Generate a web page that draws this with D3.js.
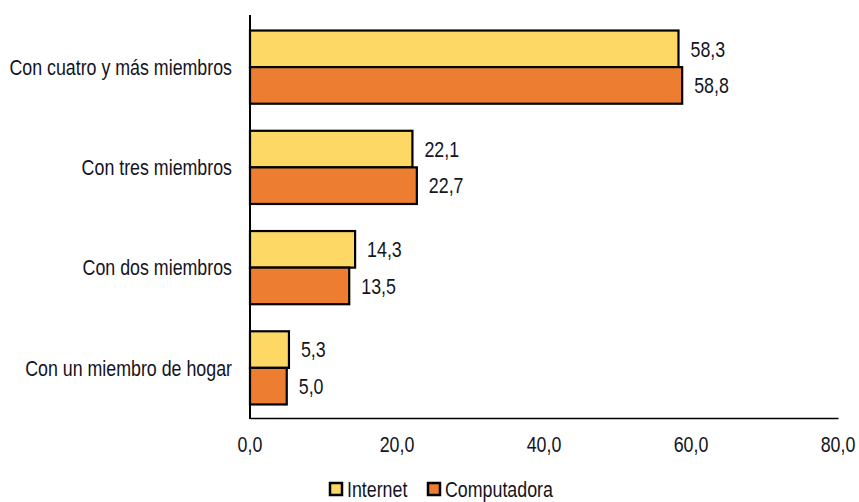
<!DOCTYPE html>
<html><head><meta charset="utf-8">
<script src="https://cdn.jsdelivr.net/npm/d3@7/dist/d3.min.js"></script>
<style>body{margin:0;background:#fff}svg{display:block}text{font-family:"Liberation Sans",Arial,sans-serif;fill:#14141e}</style>
</head><body><svg id="c" width="859" height="502"></svg>
<script>
const categories = ["Con cuatro y más miembros","Con tres miembros","Con dos miembros","Con un miembro de hogar"];
const series = ["Internet","Computadora"];
const internet = [58.3,22.1,14.3,5.3];
const computadora = [58.8,22.7,13.5,5.0];
const ticks = [0,20,40,60,80];
const colors = ["#FDD865","#ED7D31"];

const svg = d3.select("#c");
const FS = 22, SX = 0.81;
function ntext(g, x, y, t, anchor){
  return g.append("text").attr("transform",`translate(${x},${y}) scale(${SX},1)`)
    .attr("dy","0.35em").attr("font-size",FS).attr("text-anchor",anchor||"start").text(t);
}
const m = {l:250, r:838, t:17, b:418};
const x = d3.scaleLinear().domain([0,80]).range([m.l, m.r]);
const y = d3.scaleBand().domain(categories).range([m.t, m.b]).paddingInner(0.27).paddingOuter(0.135);
const ys = d3.scaleBand().domain(series).range([0, y.bandwidth()]);
const fmt = v => v.toFixed(1).replace(".", ",");
const vals = [internet, computadora];

categories.forEach((c,i)=>{
  series.forEach((s,j)=>{
    const v = vals[j][i];
    svg.append("rect").attr("x", x(0)).attr("y", y(c)+ys(s))
      .attr("width", x(v)-x(0)).attr("height", ys.bandwidth())
      .attr("fill", colors[j]).attr("stroke","#000").attr("stroke-width",2.2);
    ntext(svg, x(v)+12, y(c)+ys(s)+ys.bandwidth()/2, fmt(v));
  });
  ntext(svg, 232, y(c)+y.bandwidth()/2, c, "end");
});

// axes
svg.append("line").attr("x1",x(0)).attr("x2",x(0)).attr("y1",15).attr("y2",m.b+1).attr("stroke","#000").attr("stroke-width",2);
const xa = svg.append("g").attr("transform",`translate(0,${m.b})`)
  .call(d3.axisBottom(x).tickValues(ticks).tickSize(0).tickFormat(""));
xa.select(".domain").attr("stroke","#000").attr("stroke-width",1.5);
ticks.forEach(t => ntext(svg, x(t), m.b+26, fmt(t), "middle"));

// legend
const lg = svg.append("g").attr("transform","translate(330,489)");
[[0,"Internet"],[98,"Computadora"]].forEach(([dx,t],j)=>{
  lg.append("rect").attr("x",dx).attr("y",-6).attr("width",12).attr("height",12)
    .attr("fill",colors[j]).attr("stroke","#000").attr("stroke-width",2.5);
  ntext(lg, dx+17, 0, t);
});
</script></body></html>
